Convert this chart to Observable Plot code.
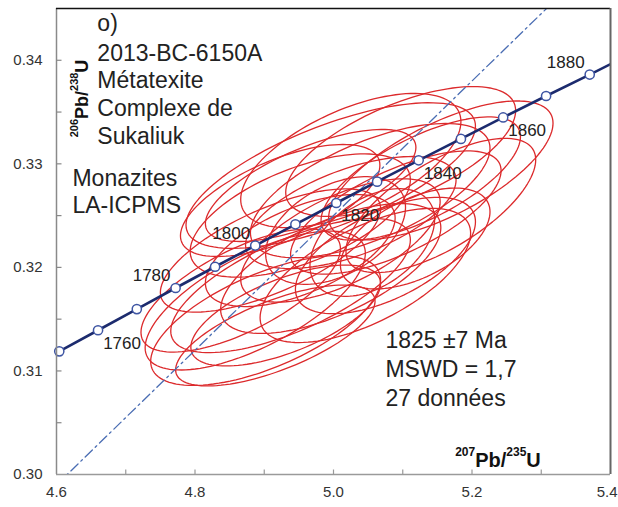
<!DOCTYPE html>
<html>
<head>
<meta charset="utf-8">
<script src="https://cdn.jsdelivr.net/npm/d3@7"></script>
<script src="https://cdn.jsdelivr.net/npm/@observablehq/plot@0.6"></script>
<style>
  body { margin: 0; background: #fff; }
  #chart svg { display: block; }
</style>
</head>
<body>
<div id="chart"></div>
<script>
// Concordia: ages (Ma) and the matching 207Pb/235U, 206Pb/238U ratios
const concordiaAges = [1750, 1760, 1770, 1780, 1790, 1800, 1810, 1820, 1830, 1840, 1850, 1860, 1870, 1880];
const concordia207 = [4.604, 4.660, 4.716, 4.772, 4.829, 4.887, 4.945, 5.004, 5.063, 5.123, 5.184, 5.245, 5.307, 5.370];
const concordia206 = [0.31189, 0.31393, 0.31597, 0.31801, 0.32006, 0.32211, 0.32416, 0.32622, 0.32828, 0.33034, 0.33241, 0.33448, 0.33655, 0.33862];
// the curve runs on past 1880 Ma to the edge of the diagram
const concordiaTail = { age: 1885, x: 5.401, y: 0.33966 };

// Ages written next to the curve, and on which side of it
const labelledAges = [1760, 1780, 1800, 1820, 1840, 1860, 1880];
const labelSide = ["below", "above", "above", "below", "below", "below", "above"];

// Monazite spots: ratios, 2σ half-widths and error correlation
const spot207 = [5.155, 5.097, 5.126, 4.996, 5.053, 5.090, 5.025, 4.952, 5.118, 5.010, 4.952, 4.909, 5.075, 4.887,
                 4.938, 4.902, 4.931, 4.996, 5.046, 4.866, 5.025, 4.923, 4.967, 5.155, 4.916, 5.003, 5.056];
const spot206 = [0.32936, 0.33119, 0.32858, 0.32887, 0.32742, 0.32530, 0.32530, 0.32501, 0.32279, 0.32260, 0.32163, 0.32163, 0.32115, 0.31680,
                 0.31825, 0.31487, 0.31535, 0.31989, 0.31922, 0.31777, 0.33032, 0.32646, 0.32791, 0.32598, 0.31342, 0.32356, 0.32240];
const err207 = [0.162, 0.166, 0.144, 0.209, 0.173, 0.152, 0.152, 0.159, 0.108, 0.144, 0.137, 0.159, 0.130, 0.159,
                0.173, 0.166, 0.137, 0.159, 0.152, 0.144, 0.159, 0.144, 0.152, 0.137, 0.144, 0.101, 0.090];
const err206 = [0.00671, 0.00627, 0.00595, 0.00703, 0.00648, 0.00595, 0.00541, 0.00595, 0.00487, 0.00595, 0.00541, 0.00595, 0.00562, 0.00671,
                0.00648, 0.00627, 0.00487, 0.00627, 0.00648, 0.00595, 0.00648, 0.00541, 0.00541, 0.00648, 0.00487, 0.00520, 0.00520];
const errRho = [0.68, 0.63, 0.68, 0.68, 0.63, 0.68, 0.58, 0.58, 0.53, 0.63, 0.58, 0.68, 0.58, 0.68,
                0.68, 0.63, 0.63, 0.63, 0.63, 0.68, 0.58, 0.63, 0.68, 0.68, 0.68, 0.43, 0.43];

// Dash-dot line through the origin
const chordX = [4.600, 5.320];
const chordY = [0.2990, 0.3458];

// Axes
const xDomain = [4.6, 5.4];
const yDomain = [0.30, 0.345];
const xTickLabels = [4.6, 4.8, 5.0, 5.2];
const xEdgeLabel = [5.4];
const yTickLabels = [0.30, 0.31, 0.32, 0.33, 0.34];
const xTickMarks = [4.7, 4.8, 4.9, 5.0, 5.1, 5.2, 5.3];
const yTickMarks = [0.305, 0.31, 0.315, 0.32, 0.325, 0.33, 0.335, 0.34];

// Annotation text
const panelTag = "o)";
const sampleLines = ["2013-BC-6150A", "Métatexite", "Complexe de", "Sukaliuk"];
const methodLines = ["Monazites", "LA-ICPMS"];
const resultLines = ["1825 ±7 Ma", "MSWD = 1,7", "27 données"];
const xTitle = "207Pb/235U";
const yTitle = "206Pb/238U";

// ---- derived tables ----
const concordia = concordiaAges.map((age, i) => ({ age, x: concordia207[i], y: concordia206[i] }));
const concordiaPath = [...concordia, concordiaTail];
const ageLabels = labelledAges.map((age, k) => ({ ...concordia[concordiaAges.indexOf(age)], side: labelSide[k] }));

// error ellipse outlines from centre, half-widths and correlation
const ellipsePts = [];
spot207.forEach((cx, i) => {
  const r = errRho[i], s = Math.sqrt(1 - r * r);
  for (let k = 0; k <= 120; k++) {
    const t = (2 * Math.PI * k) / 120;
    ellipsePts.push({
      id: i,
      x: cx + err207[i] * Math.cos(t),
      y: spot206[i] + err206[i] * (r * Math.cos(t) + s * Math.sin(t))
    });
  }
});
const chord = chordX.map((x, i) => ({ x, y: chordY[i] }));

// inward tick glyphs
const tickRight = { draw(ctx) { ctx.moveTo(0, 0); ctx.lineTo(5, 0); } };
const tickUp = { draw(ctx) { ctx.moveTo(0, 0); ctx.lineTo(0, -5); } };

const ink = "#222";
const titleSizes = { [xTitle]: [20, 12], [yTitle]: [18, 11] };
const fmtX = d3.format(".1f");

const chart = Plot.plot({
  width: 618,
  height: 507,
  marginLeft: 56,
  marginRight: 8,
  marginTop: 8,
  marginBottom: 33,
  style: { fontFamily: "'Liberation Sans', Arial, sans-serif", fontSize: "15px", background: "#fff", overflow: "visible" },
  x: { domain: xDomain },
  y: { domain: yDomain },
  marks: [
    // error ellipses
    Plot.line(ellipsePts, { x: "x", y: "y", z: "id", stroke: "#dc2a2c", strokeWidth: 1.3 }),
    // dash-dot reference line
    Plot.line(chord, { x: "x", y: "y", stroke: "#4a6db3", strokeWidth: 1.3, strokeDasharray: "10,4,2,4", clip: true }),
    // concordia
    Plot.line(concordiaPath, { x: "x", y: "y", stroke: "#1c2b6e", strokeWidth: 2.6, clip: true }),
    Plot.dot(concordia, { x: "x", y: "y", r: 4.6, fill: "#fff", stroke: "#3e55a3", strokeWidth: 1.5 }),
    Plot.text(ageLabels.filter(d => d.side === "above"), {
      x: "x", y: "y", text: d => String(d.age), dx: -24, dy: -12, fontSize: 17, fill: ink
    }),
    Plot.text(ageLabels.filter(d => d.side === "below"), {
      x: "x", y: "y", text: d => String(d.age), dx: 24, dy: 13, fontSize: 17, fill: ink
    }),
    // frame
    Plot.ruleX([xDomain[0]], { stroke: "#8a8a8a", strokeWidth: 1.5 }),
    Plot.ruleY([yDomain[0]], { stroke: "#9a9a9a", strokeWidth: 1.5 }),
    Plot.ruleY([yDomain[1]], { stroke: "#111", strokeWidth: 1.6 }),
    Plot.ruleX([xDomain[1]], { stroke: "#666", strokeWidth: 2 }),
    Plot.dot(yTickMarks, { x: xDomain[0], y: d => d, symbol: tickRight, fill: "none", stroke: "#888", strokeWidth: 1.2 }),
    Plot.dot(xTickMarks, { x: d => d, y: yDomain[0], symbol: tickUp, fill: "none", stroke: "#999", strokeWidth: 1.2 }),
    // axes
    Plot.axisX(xTickLabels, { tickSize: 0, tickPadding: 12, tickFormat: fmtX, fontSize: 15, fill: "#333", label: null }),
    Plot.axisX(xEdgeLabel, { tickSize: 0, tickPadding: 12, tickFormat: fmtX, fontSize: 15, fill: "#333", label: null, textAnchor: "end", dx: 7 }),
    Plot.axisY(yTickLabels, { tickSize: 0, tickPadding: 14, tickFormat: d3.format(".2f"), fontSize: 15, fill: "#333", label: null }),
    Plot.text([xTitle], { x: 5.2375, y: 0.30077, text: d => d, fontWeight: "bold", fontSize: 20, lineAnchor: "bottom", fill: "#111" }),
    Plot.text([yTitle], { x: 4.6448, y: 0.33631, text: d => d, fontWeight: "bold", fontSize: 18, rotate: -90, lineAnchor: "bottom", fill: "#111" }),
    // annotations
    Plot.text([panelTag], { x: 4.659, y: 0.34278, text: d => d, textAnchor: "start", lineAnchor: "bottom", fontSize: 23, fill: ink }),
    Plot.text([sampleLines.join("\n")], { x: 4.659, y: 0.33196, text: d => d, textAnchor: "start", lineAnchor: "bottom", lineHeight: 1.2, fontSize: 23, fill: ink }),
    Plot.text([methodLines.join("\n")], { x: 4.623, y: 0.32530, text: d => d, textAnchor: "start", lineAnchor: "bottom", lineHeight: 1.17, fontSize: 23, fill: ink }),
    Plot.text([resultLines.join("\n")], { x: 5.075, y: 0.30666, text: d => d, textAnchor: "start", lineAnchor: "bottom", lineHeight: 1.26, fontSize: 23, fill: ink })
  ]
});

// isotope ratio titles: set the mass numbers as superscripts
d3.select(chart).selectAll("text").each(function () {
  const m = /^(\d+)Pb\/(\d+)U$/.exec(this.textContent);
  if (!m) return;
  const [main, sup] = titleSizes[this.textContent];
  const shift = Math.round(main * 0.55);
  this.textContent = "";
  const parts = [[m[1], sup, -shift], ["Pb/", main, shift], [m[2], sup, -shift], ["U", main, shift]];
  for (const [txt, size, dy] of parts) {
    d3.select(this).append("tspan").attr("font-size", size).attr("dy", dy).text(txt);
  }
});

document.getElementById("chart").append(chart);
</script>
</body>
</html>
